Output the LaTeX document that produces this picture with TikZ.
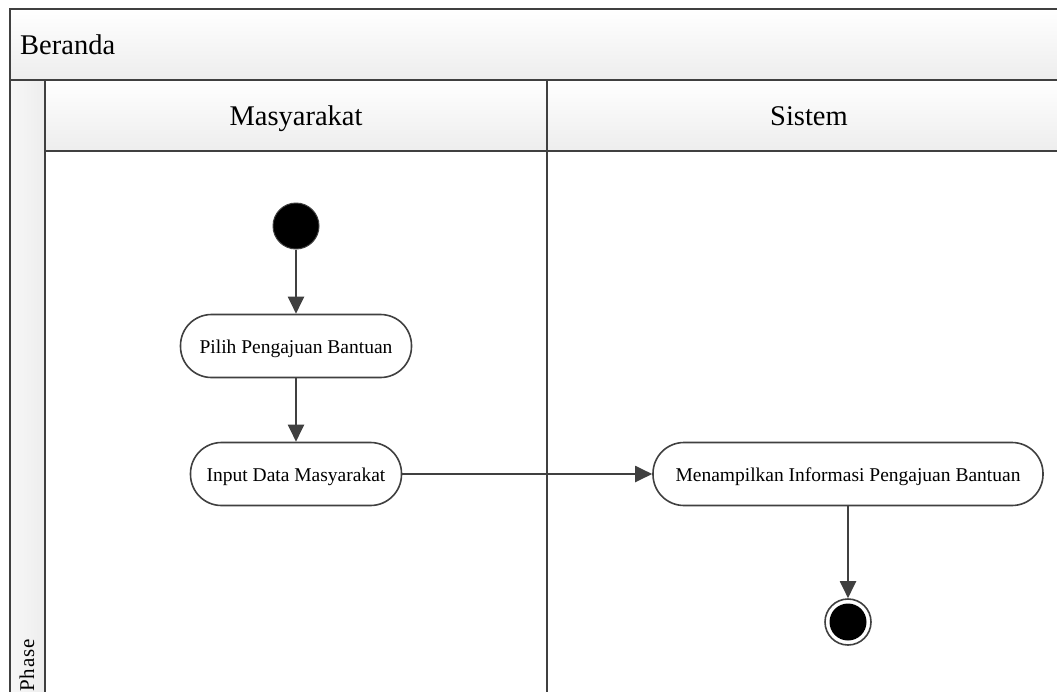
\documentclass[tikz,border=0pt]{standalone}
\usepackage{fontspec}
\setmainfont{Liberation Serif}
\usetikzlibrary{arrows.meta}
\definecolor{edge}{HTML}{404040}
\tikzset{
  frame/.style={draw=edge, line width=2pt},
  head/.style={top color=white, bottom color=black!7, draw=edge, line width=2pt},
  action/.style={draw=edge, line width=1.6pt, fill=white, rounded corners=31pt,
    minimum height=63pt, inner sep=0pt, text height=14pt, text depth=0pt,
    font=\fontsize{19.5}{22}\selectfont},
  flow/.style={draw=edge, line width=2pt, -{Triangle[length=17pt,width=16pt]}},
  lanetitle/.style={font=\fontsize{28.5}{32}\selectfont, text=black, inner sep=0pt}
}
\begin{document}
\begin{tikzpicture}[x=1pt,y=-1pt]
  \useasboundingbox (0,0) rectangle (1057,691);
  \clip (0,0) rectangle (1057,691);
  % pool title bar and phase column
  \path[head] (10,9) rectangle (1075,80);
  \path[left color=black!3, right color=black!7, draw=edge, line width=2pt] (10,80) rectangle (45,710);
  % lane headers
  \path[head] (45,80) rectangle (547,151);
  \path[head] (547,80) rectangle (1075,151);
  % lane bodies
  \draw[frame, fill=white] (45,151) rectangle (547,710);
  \draw[frame, fill=white] (547,151) rectangle (1075,710);
  % texts of the frame
  \node[lanetitle, anchor=base west] (pool) at (20,54) {Beranda};
  \node[lanetitle, anchor=base] (laneA) at (296,125) {Masyarakat};
  \node[lanetitle, anchor=base] (laneB) at (809,125) {Sistem};
  \node[rotate=90, anchor=base west, font=\fontsize{21}{24}\selectfont\addfontfeature{LetterSpace=4}, inner sep=0pt] (phase) at (34,692) {Phase};
  % activity nodes
  \node[circle, fill=black, draw=edge, line width=1pt, minimum size=46pt, inner sep=0pt] (start) at (296,226) {};
  \node[action, minimum width=231pt] (pilih) at (296,346) {Pilih Pengajuan Bantuan};
  \node[action, minimum width=211pt] (input) at (296,474) {Input Data Masyarakat};
  \node[action, minimum width=390pt] (tampil) at (848,474) {Menampilkan Informasi Pengajuan Bantuan};
  \node[circle, draw=edge, line width=1.6pt, fill=white, minimum size=46pt, inner sep=0pt] (end) at (848,622) {};
  \node[circle, fill=black, minimum size=37pt, inner sep=0pt] (endin) at (end) {};
  % control flow
  \draw[flow] (start) -- (pilih);
  \draw[flow] (pilih) -- (input);
  \draw[flow] (input) -- (tampil);
  \draw[flow] (tampil) -- (end);
\end{tikzpicture}
\end{document}
